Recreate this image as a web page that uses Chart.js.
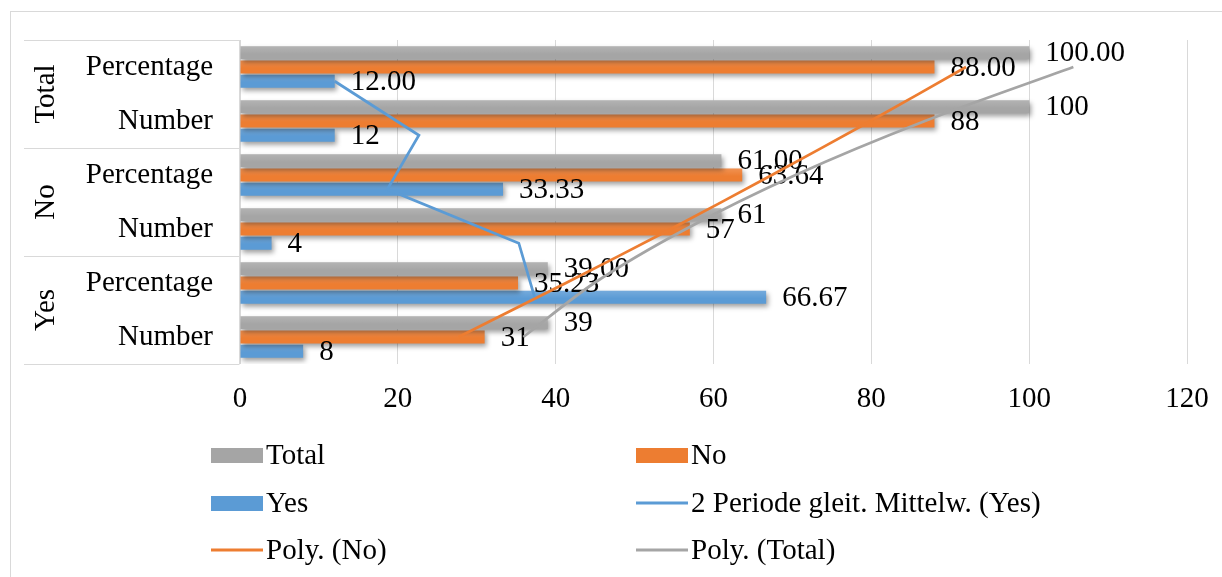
<!DOCTYPE html>
<html>
<head>
<meta charset="utf-8">
<script src="https://cdn.jsdelivr.net/npm/chart.js@4/dist/chart.umd.min.js"></script>
<style>
  html, body { margin: 0; padding: 0; background: #fff; }
  #wrap { position: relative; width: 1222px; height: 577px; overflow: hidden; }
  canvas { display: block; position: absolute; left: 0; top: 0; }
</style>
</head>
<body>
<div id="wrap">
  <canvas id="bars" width="1222" height="577"></canvas>
  <canvas id="trends" width="1222" height="577"></canvas>
</div>
<script>
// Survey answers grouped by answer (Total / No / Yes), each as count and share
const groupLabels = ['Total', 'No', 'Yes'];
const rowLabels = ['Percentage', 'Number', 'Percentage', 'Number', 'Percentage', 'Number'];
const xTicks = [0, 20, 40, 60, 80, 100, 120];

const totalValues = [100, 100, 61, 61, 39, 39];
const noValues = [88, 88, 63.64, 57, 35.23, 31];
const yesValues = [12, 12, 33.33, 4, 66.67, 8];

// Trend lines (top row first)
const yesMovingAvg = [12.0, 22.67, 18.67, 35.33, 37.33];
const noPolyTrend = [92.0, 79.9, 67.4, 54.6, 41.3, 27.7];
const totalPolyTrend = [105.6, 86.8, 70.4, 56.5, 44.9, 35.9];

const FONT = '"Liberation Serif", "Times New Roman", Times, serif';
const FONT_SIZE = 29;
const GRAY = '#a5a5a5', ORANGE = '#ed7d31', BLUE = '#5b9bd5';
const LINE_GRAY = '#d9d9d9';
const CAT_PCT = 0.79, BAR_PCT = 0.92;
// the Yes bar sits one bar slot below the middle of each category
const YES_SHIFT = CAT_PCT / 3;

// both canvases share the same plot rectangle
const AREA_PAD = { left: 240, top: 40, right: 35, bottom: 213 };
const Y_AXIS_W = 230, X_AXIS_H = 50;

const decimalsFor = i => rowLabels[i] === 'Percentage' ? 2 : 0;

const barSet = (label, data, color) => ({
  label, data,
  backgroundColor: color, borderWidth: 0,
  categoryPercentage: CAT_PCT, barPercentage: BAR_PCT
});
const lineSet = (label, values, shift, color, tension) => ({
  label,
  data: values.map((v, i) => ({ x: v, y: i + shift })),
  borderColor: color, borderWidth: 2.75, pointRadius: 0, fill: false,
  tension
});

const barDatasets = [
  barSet('Total', totalValues, GRAY),
  barSet('No', noValues, ORANGE),
  barSet('Yes', yesValues, BLUE)
];
const trendDatasets = [
  lineSet('2 Periode gleit. Mittelw. (Yes)', yesMovingAvg, YES_SHIFT, BLUE, 0),
  lineSet('Poly. (No)', noPolyTrend, 0, ORANGE, 0.3),
  lineSet('Poly. (Total)', totalPolyTrend, 0, GRAY, 0.3)
];

// frame around the whole figure
const framePlugin = {
  id: 'frame',
  beforeDraw(chart) {
    const ctx = chart.ctx;
    ctx.save();
    ctx.fillStyle = '#fff';
    ctx.fillRect(0, 0, chart.width, chart.height);
    ctx.strokeStyle = LINE_GRAY;
    ctx.lineWidth = 1;
    ctx.strokeRect(10.5, 11.5, chart.width + 20, chart.height + 20);
    ctx.restore();
  }
};

// two-level category axis: group boxes and rotated group names
const groupAxisPlugin = {
  id: 'groupAxis',
  afterDraw(chart) {
    const ctx = chart.ctx, y = chart.scales.y, area = chart.chartArea;
    const per = rowLabels.length / groupLabels.length;
    const left = area.left - 216, right = area.left - 0.5;
    const bounds = [area.top];
    for (let g = 1; g < groupLabels.length; g++) {
      bounds.push((y.getPixelForValue(g * per - 1) + y.getPixelForValue(g * per)) / 2);
    }
    bounds.push(area.bottom);
    ctx.save();
    ctx.strokeStyle = LINE_GRAY;
    ctx.lineWidth = 1;
    ctx.beginPath();
    bounds.forEach(b => {
      const yy = Math.round(b) + 0.5;
      ctx.moveTo(left, yy); ctx.lineTo(right, yy);
    });
    ctx.moveTo(right, area.top); ctx.lineTo(right, area.bottom);
    ctx.stroke();
    ctx.fillStyle = '#000';
    ctx.font = FONT_SIZE + 'px ' + FONT;
    ctx.textAlign = 'center';
    ctx.textBaseline = 'middle';
    groupLabels.forEach((g, i) => {
      const cy = (bounds[i] + bounds[i + 1]) / 2;
      ctx.save();
      ctx.translate(area.left - 194, cy);
      ctx.rotate(-Math.PI / 2);
      ctx.fillText(g, 0, 0);
      ctx.restore();
    });
    ctx.restore();
  }
};

// soft drop shadow and top sheen on bars, value labels once all bars are drawn
const barDecorPlugin = {
  id: 'barDecor',
  beforeDatasetDraw(chart) {
    const ctx = chart.ctx;
    ctx.save();
    ctx.shadowColor = 'rgba(0,0,0,0.38)';
    ctx.shadowBlur = 5;
    ctx.shadowOffsetX = 2;
    ctx.shadowOffsetY = 3;
  },
  afterDatasetDraw(chart, args) {
    const ctx = chart.ctx;
    ctx.restore();
    ctx.save();
    args.meta.data.forEach(el => {
      const top = el.y - el.height / 2;
      const g = ctx.createLinearGradient(0, top, 0, top + el.height);
      g.addColorStop(0, 'rgba(255,255,255,0.16)');
      g.addColorStop(0.6, 'rgba(255,255,255,0)');
      ctx.fillStyle = g;
      ctx.fillRect(el.base, top, el.x - el.base, el.height);
    });
    ctx.restore();
  },
  afterDatasetsDraw(chart) {
    const ctx = chart.ctx;
    ctx.save();
    ctx.fillStyle = '#000';
    ctx.font = FONT_SIZE + 'px ' + FONT;
    ctx.textAlign = 'left';
    ctx.textBaseline = 'middle';
    chart.data.datasets.forEach((ds, di) => {
      chart.getDatasetMeta(di).data.forEach((el, i) => {
        ctx.fillText(ds.data[i].toFixed(decimalsFor(i)), el.x + 16, el.y + 1);
      });
    });
    ctx.restore();
  }
};

// legend in two columns under the plot
const legendPlugin = {
  id: 'twoColLegend',
  afterDraw(chart) {
    const ctx = chart.ctx;
    const colX = [211, 636], rowY = [455, 503, 550];
    const items = barDatasets.map(d => ({ label: d.label, color: d.backgroundColor, bar: true }))
      .concat(trendDatasets.map(d => ({ label: d.label, color: d.borderColor, bar: false })));
    ctx.save();
    ctx.font = FONT_SIZE + 'px ' + FONT;
    ctx.textBaseline = 'middle';
    ctx.textAlign = 'left';
    items.forEach((it, i) => {
      const x = colX[i % 2], y = rowY[Math.floor(i / 2)];
      ctx.fillStyle = it.color;
      if (it.bar) ctx.fillRect(x, y - 7, 52, 15);
      else ctx.fillRect(x, y - 1.5, 52, 3);
      ctx.fillStyle = '#000';
      ctx.fillText(it.label, x + 55, y + 1);
    });
    ctx.restore();
  }
};

new Chart(document.getElementById('bars'), {
  type: 'bar',
  data: { labels: rowLabels, datasets: barDatasets },
  options: {
    responsive: false,
    animation: false,
    devicePixelRatio: 1,
    indexAxis: 'y',
    layout: { padding: { left: AREA_PAD.left - Y_AXIS_W, top: AREA_PAD.top, right: AREA_PAD.right, bottom: AREA_PAD.bottom - X_AXIS_H } },
    plugins: { legend: { display: false }, tooltip: { enabled: false } },
    scales: {
      x: {
        type: 'linear', position: 'bottom', min: 0, max: 120,
        afterBuildTicks: s => { s.ticks = xTicks.map(v => ({ value: v })); },
        ticks: { color: '#000', font: { family: FONT, size: FONT_SIZE }, padding: 18 },
        grid: { color: LINE_GRAY, drawTicks: false, lineWidth: 1 },
        border: { display: false },
        afterFit: s => { s.height = X_AXIS_H; s.paddingLeft = 0; s.paddingRight = 0; }
      },
      y: {
        type: 'category', position: 'left', offset: true,
        ticks: { color: '#000', font: { family: FONT, size: FONT_SIZE }, padding: 27, autoSkip: false },
        grid: { display: false, drawTicks: false },
        border: { display: false },
        afterFit: s => { s.width = Y_AXIS_W; s.paddingTop = 0; s.paddingBottom = 0; }
      }
    }
  },
  plugins: [framePlugin, groupAxisPlugin, barDecorPlugin, legendPlugin]
});

// trend lines on a transparent layer with the same plot rectangle
new Chart(document.getElementById('trends'), {
  type: 'line',
  data: { datasets: trendDatasets },
  options: {
    responsive: false,
    animation: false,
    devicePixelRatio: 1,
    layout: { padding: AREA_PAD },
    plugins: { legend: { display: false }, tooltip: { enabled: false } },
    scales: {
      x: { type: 'linear', min: 0, max: 120, display: false },
      y: { type: 'linear', min: -0.5, max: rowLabels.length - 0.5, reverse: true, display: false }
    }
  }
});
</script>
</body>
</html>
